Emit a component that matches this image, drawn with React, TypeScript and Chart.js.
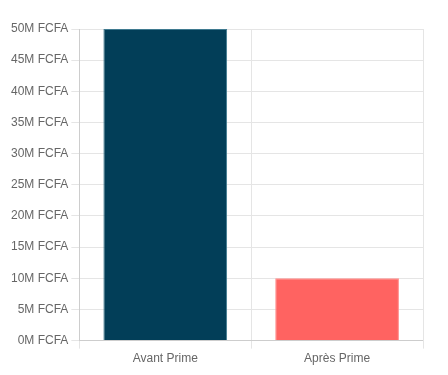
import React, { useEffect, useRef } from "react";
import { Chart, registerables } from "chart.js";

Chart.register(...registerables);

const categories = ["Avant Prime", "Après Prime"];
const values = [50000000, 10000000];
const barColors = ["#023e58", "#ff6361"];
const borderColors = ["#3f7a90", "#ff8e8c"];

export default function App() {
  const ref = useRef<HTMLCanvasElement>(null);
  useEffect(() => {
    if (!ref.current) return;
    const chart = new Chart(ref.current, {
      type: "bar",
      data: {
        labels: categories,
        datasets: [
          {
            data: values,
            backgroundColor: barColors,
            borderColor: borderColors,
            borderWidth: 1,
          },
        ],
      },
      options: {
        animation: false,
        responsive: true,
        maintainAspectRatio: false,
        layout: { padding: { top: 21, right: 17, left: 0, bottom: 0 } },
        plugins: { legend: { display: false }, tooltip: { enabled: false } },
        scales: {
          x: {
            grid: { color: "#e5e5e5" },
            ticks: { color: "#666", font: { size: 12 } },
          },
          y: {
            min: 0,
            max: 50000000,
            grid: { color: "#e5e5e5" },
            ticks: {
              stepSize: 5000000,
              color: "#666",
              font: { size: 12 },
              callback: (v: any) => Number(v) / 1000000 + "M FCFA",
            },
          },
        },
      },
    });
    return () => chart.destroy();
  }, []);
  return (
    <div style={{ width: 432, height: 361, position: "relative" }}>
      <canvas ref={ref} />
    </div>
  );
}
